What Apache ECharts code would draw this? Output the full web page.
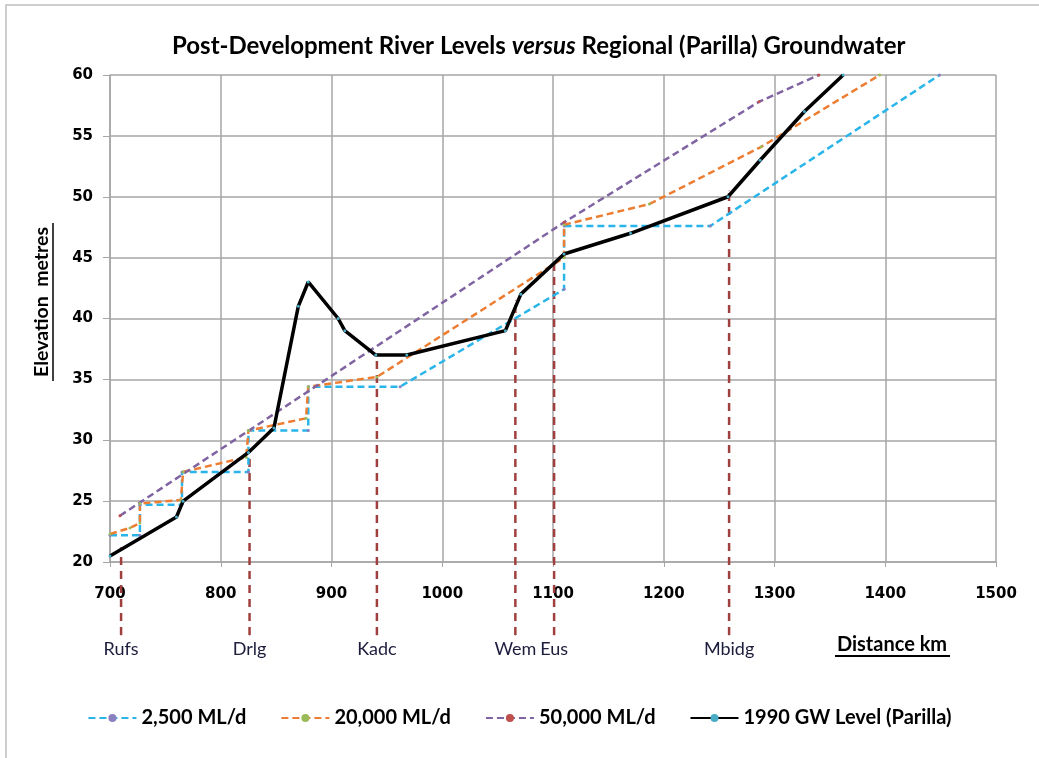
<!DOCTYPE html>
<html>
<head>
<meta charset="utf-8">
<script src="https://cdn.jsdelivr.net/npm/echarts@6/dist/echarts.min.js"></script>
<style>
  html, body { margin: 0; padding: 0; background: #fff; }
  #chart { width: 1039px; height: 758px; }
</style>
</head>
<body>
<div id="chart"></div>
<script>
// 2,500 ML/d river level
const lowKm = [700, 727, 727, 765, 765, 825, 825, 879, 879, 962, 1110, 1110, 1242, 1449];
const lowLevel = [22.2, 22.2, 24.7, 24.7, 27.4, 27.4, 30.8, 30.8, 34.4, 34.4, 42.4, 47.6, 47.6, 60];

// 20,000 ML/d river level
const midKm = [700, 718, 727, 727, 764, 766, 823, 825, 877, 879, 941, 1110, 1110, 1187, 1288, 1395];
const midLevel = [22.3, 22.8, 23.2, 24.8, 25.1, 27.4, 28.6, 30.8, 31.8, 34.4, 35.2, 45.0, 47.7, 49.4, 54.1, 60];

// 50,000 ML/d river level
const highKm = [709, 1110, 1286, 1340];
const highLevel = [23.8, 47.9, 57.8, 60];

// 1990 groundwater level (Parilla)
const gwKm = [700, 760, 766, 825, 848, 870, 879, 906, 912, 940, 968, 1057, 1071, 1110, 1170, 1258, 1287, 1327, 1362];
const gwLevel = [20.5, 23.7, 25.0, 29.0, 31.0, 41.0, 43.0, 40.0, 39.0, 37.0, 37.0, 39.0, 42.0, 45.3, 47.0, 50.0, 53.0, 57.0, 60.0];

// river gauge sites
const siteNames = ['Rufs', 'Drlg', 'Kadc', 'Wem', 'Eus', 'Mbidg'];
const siteKm = [710, 826, 941, 1066, 1101, 1259];
const siteTop = [21.2, 29.0, 37.0, 41.5, 44.5, 50.5];

const xTicks = [700, 800, 900, 1000, 1100, 1200, 1300, 1400, 1500];
const yTicks = [20, 25, 30, 35, 40, 45, 50, 55, 60];

const seriesNames = ['2,500 ML/d', '20,000 ML/d', '50,000 ML/d', '1990 GW Level (Parilla)'];

const zip = (xs, ys) => xs.map((x, i) => [x, ys[i]]);

const SITE_BASE = 14; // dashed site lines run down below the axis

const riverLine = (name, xs, ys, color, markColor) => ({
  name: name,
  type: 'line',
  data: zip(xs, ys),
  symbol: 'circle',
  symbolSize: 3,
  color: color,
  itemStyle: { color: markColor },
  lineStyle: { color: color, width: 2.5, type: [7, 4] },
  z: 3
});

const siteSeries = siteNames.map((name, i) => ({
  name: name,
  type: 'line',
  clip: false,
  symbol: 'circle',
  symbolSize: 1,
  itemStyle: { color: '#A0403E' },
  lineStyle: { color: '#A0403E', width: 2.5, type: [8, 6] },
  data: [
    {
      value: [siteKm[i], SITE_BASE],
      label: {
        show: true,
        position: 'bottom',
        distance: 5,
        formatter: name,
        fontFamily: 'Lato',
        fontSize: 18,
        color: '#1c1c3c'
      }
    },
    [siteKm[i], siteTop[i]]
  ],
  z: 2
}));

const axisText = { fontFamily: 'DejaVu Sans', fontWeight: 'bold', fontSize: 15, color: '#000' };

const chart = echarts.init(document.getElementById('chart'));

chart.setOption({
  animation: false,
  backgroundColor: '#fff',
  title: {
    left: 167,
    top: 29,
    text: '{b|Post-Development River Levels }{i|versus}{b| Regional (Parilla) Groundwater}',
    textStyle: {
      rich: {
        b: { fontFamily: 'Lato', fontWeight: 'bold', fontSize: 24, color: '#000' },
        i: { fontFamily: 'Lato', fontWeight: 'bold', fontStyle: 'italic', fontSize: 24, color: '#000' }
      }
    }
  },
  grid: { left: 110, right: 43, top: 75, bottom: 196 },
  legend: {
    data: seriesNames,
    top: 703,
    left: 'center',
    itemWidth: 48,
    itemHeight: 10,
    itemGap: 34,
    textStyle: { fontFamily: 'Lato', fontWeight: 'bold', fontSize: 20, color: '#000' }
  },
  xAxis: {
    type: 'value',
    min: xTicks[0],
    max: xTicks[xTicks.length - 1],
    interval: 100,
    axisLine: { lineStyle: { color: '#A6A6A6', width: 1.5 } },
    axisTick: { show: true, length: 5, lineStyle: { color: '#A6A6A6' } },
    splitLine: { show: true, lineStyle: { color: '#A6A6A6', width: 1.5 } },
    axisLabel: Object.assign({ margin: 25, formatter: (v) => String(v) }, axisText)
  },
  yAxis: {
    type: 'value',
    min: yTicks[0],
    max: yTicks[yTicks.length - 1],
    interval: 5,
    axisLine: { show: true, lineStyle: { color: '#A6A6A6', width: 1.5 } },
    axisTick: { show: true, length: 7, lineStyle: { color: '#A6A6A6' } },
    splitLine: { show: true, lineStyle: { color: '#A6A6A6', width: 1.5 } },
    axisLabel: Object.assign({ margin: 17 }, axisText)
  },
  graphic: [
    {
      type: 'rect',
      shape: { x: 6, y: 5, width: 1060, height: 780 },
      style: { fill: 'none', stroke: '#BFBFBF', lineWidth: 1.5 },
      silent: true
    },
    {
      type: 'group',
      x: 42,
      y: 302,
      rotation: Math.PI / 2,
      children: [
        {
          type: 'text',
          style: {
            text: 'Elevation  metres',
            x: 0, y: 0,
            align: 'center',
            verticalAlign: 'middle',
            font: 'bold 19.5px Lato',
            fill: '#000'
          }
        },
        {
          type: 'line',
          shape: { x1: -79, y1: 11, x2: 79, y2: 11 },
          style: { stroke: '#000', lineWidth: 1.5 }
        }
      ]
    },
    {
      type: 'text',
      x: 892,
      y: 645,
      style: {
        text: 'Distance km',
        align: 'center',
        verticalAlign: 'middle',
        font: 'bold 20px Lato',
        fill: '#000'
      }
    },
    {
      type: 'line',
      shape: { x1: 835, y1: 656, x2: 950, y2: 656 },
      style: { stroke: '#000', lineWidth: 2 }
    }
  ],
  series: [
    riverLine(seriesNames[0], lowKm, lowLevel, '#29B5EA', '#8A7FC0'),
    riverLine(seriesNames[1], midKm, midLevel, '#ED7D31', '#9BBB59'),
    riverLine(seriesNames[2], highKm, highLevel, '#8064A2', '#C0504D'),
    {
      name: seriesNames[3],
      type: 'line',
      data: zip(gwKm, gwLevel),
      symbol: 'circle',
      symbolSize: 3,
      color: '#000',
      itemStyle: { color: '#4BACC6' },
      lineStyle: { color: '#000', width: 3.5 },
      z: 4
    },
    ...siteSeries
  ]
});
</script>
</body>
</html>
